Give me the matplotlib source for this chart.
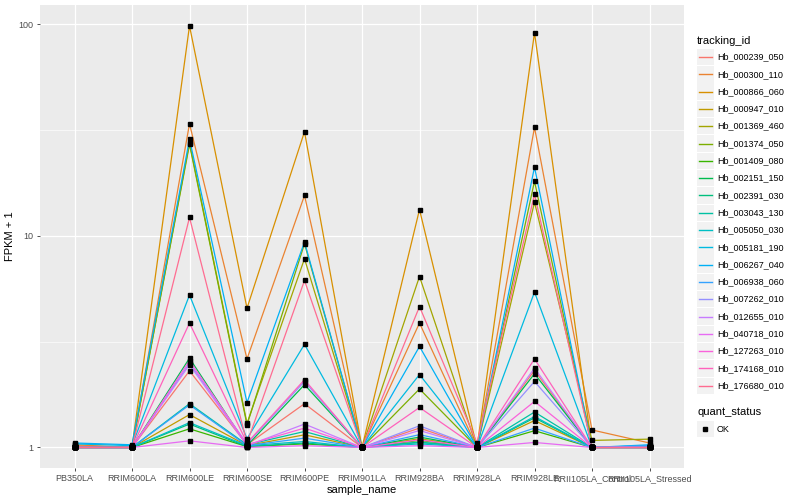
import numpy as np
import matplotlib
matplotlib.use("Agg")
import matplotlib.pyplot as plt
from matplotlib.patches import Rectangle
from matplotlib.ticker import FixedLocator, NullFormatter

plt.rcParams['font.family'] = ['Liberation Sans', 'DejaVu Sans']

samples = ["PB350LA", "RRIM600LA", "RRIM600LE", "RRIM600SE", "RRIM600PE", "RRIM901LA",
           "RRIM928BA", "RRIM928LA", "RRIM928LE", "RRII105LA_Control", "RRII105LA_Stressed"]

tracking_ids = ["Hb_000239_050", "Hb_000300_110", "Hb_000866_060", "Hb_000947_010",
                "Hb_001369_460", "Hb_001374_050", "Hb_001409_080", "Hb_002151_150",
                "Hb_002391_030", "Hb_003043_130", "Hb_005050_030", "Hb_005181_190",
                "Hb_006267_040", "Hb_006938_060", "Hb_007262_010", "Hb_012655_010",
                "Hb_040718_010", "Hb_127263_010", "Hb_174168_010", "Hb_176680_010"]

# ggplot default hue palette for 20 groups
colors = ["#F8766D", "#EA8331", "#D89000", "#C09B00", "#A3A500", "#7CAE00", "#39B600",
          "#00BB4E", "#00BF7D", "#00C1A3", "#00BFC4", "#00BAE0", "#00B0F6", "#35A2FF",
          "#9590FF", "#C77CFF", "#E76BF3", "#FA62DB", "#FF62BC", "#FF6C91"]

# FPKM + 1, one row per tracking_id, one column per sample
fpkm = [
    [1.02, 1.00, 2.30, 1.03, 1.61, 1.00, 1.235, 1.00, 2.31, 1.00, 1.00],
    [1.03, 1.00, 33.8, 2.62, 15.5, 1.00, 3.87, 1.00, 32.5, 1.21, 1.05],
    [1.00, 1.00, 98.0, 4.55, 31.0, 1.00, 13.3, 1.00, 91.0, 1.00, 1.00],
    [1.00, 1.00, 1.43, 1.02, 1.148, 1.00, 1.10, 1.00, 1.34, 1.00, 1.00],
    [1.00, 1.00, 27.5, 1.30, 7.79, 1.00, 6.42, 1.00, 14.4, 1.08, 1.095],
    [1.00, 1.00, 27.0, 1.28, 9.17, 1.00, 1.89, 1.00, 18.1, 1.00, 1.00],
    [1.00, 1.00, 1.225, 1.01, 1.04, 1.00, 1.08, 1.00, 1.20, 1.00, 1.00],
    [1.00, 1.00, 2.64, 1.02, 1.98, 1.00, 1.12, 1.00, 2.23, 1.00, 1.00],
    [1.00, 1.00, 1.29, 1.01, 1.05, 1.00, 1.06, 1.00, 1.38, 1.00, 1.00],
    [1.00, 1.00, 1.61, 1.03, 1.19, 1.00, 1.056, 1.00, 1.47, 1.00, 1.00],
    [1.00, 1.00, 1.31, 1.02, 1.067, 1.00, 1.04, 1.00, 1.40, 1.00, 1.01],
    [1.04, 1.02, 5.25, 1.10, 3.07, 1.00, 2.21, 1.00, 5.42, 1.00, 1.02],
    [1.05, 1.03, 28.6, 1.63, 9.34, 1.00, 3.00, 1.00, 21.1, 1.00, 1.03],
    [1.00, 1.00, 1.59, 1.02, 1.107, 1.00, 1.15, 1.00, 1.235, 1.00, 1.02],
    [1.00, 1.00, 2.50, 1.04, 2.05, 1.00, 1.266, 1.00, 2.05, 1.00, 1.00],
    [1.00, 1.00, 2.46, 1.02, 1.29, 1.00, 1.203, 1.00, 2.37, 1.00, 1.00],
    [1.00, 1.00, 1.075, 1.00, 1.02, 1.00, 1.02, 1.00, 1.056, 1.00, 1.00],
    [1.00, 1.00, 2.57, 1.03, 1.235, 1.00, 1.087, 1.00, 1.65, 1.00, 1.00],
    [1.00, 1.00, 3.87, 1.05, 2.09, 1.00, 1.545, 1.00, 2.62, 1.00, 1.00],
    [1.00, 1.00, 12.2, 1.05, 6.15, 1.00, 4.63, 1.05, 15.7, 1.00, 1.00],
]
quant_status = ["OK"]

fig = plt.figure(figsize=(8, 5), dpi=100)
ax = fig.add_axes([0.05, 0.064, 0.805, 0.926])
ax.set_facecolor("#EBEBEB")
for s in ax.spines.values():
    s.set_visible(False)

x = np.arange(len(samples))
for i, vals in enumerate(fpkm):
    ax.plot(x, vals, color=colors[i], lw=0.9, zorder=3)
for vals in fpkm:
    ax.plot(x, vals, ls="none", marker="s", ms=2.3, color="black", zorder=4)

ax.set_yscale("log")
ax.set_ylim(0.80, 123)
ax.set_xlim(-0.6, len(samples) - 0.4)
ax.yaxis.set_major_locator(FixedLocator([1, 10, 100]))
ax.yaxis.set_minor_locator(FixedLocator([10 ** 0.5, 10 ** 1.5]))
ax.yaxis.set_minor_formatter(NullFormatter())
ax.set_yticklabels(["1", "10", "100"])
ax.set_xticks(x)
ax.set_xticklabels(samples)

ax.grid(True, which="major", color="white", lw=0.9, zorder=0)
ax.grid(True, which="minor", axis="y", color="white", lw=0.45, zorder=0)
ax.set_axisbelow(True)
ax.tick_params(which="major", length=2.5, width=0.6, color="#333333",
               labelsize=6.5, labelcolor="#4D4D4D", pad=2)
ax.tick_params(which="minor", length=0)
ax.set_xlabel("sample_name", fontsize=8, labelpad=1)
ax.set_ylabel("FPKM + 1", fontsize=8, labelpad=3)

# legends drawn in pixel coordinates on an overlay
lax = fig.add_axes([0, 0, 1, 1])
lax.set_xlim(0, 800)
lax.set_ylim(500, 0)
lax.axis("off")

lax.text(697, 41, "tracking_id", fontsize=8, va="center", ha="left")
for i, tid in enumerate(tracking_ids):
    yc = 57 + 17.3 * i
    lax.add_patch(Rectangle((697, yc - 8.2), 16.6, 16.4, facecolor="#F2F2F2", edgecolor="none"))
    lax.plot([698.5, 711.5], [yc, yc], color=colors[i], lw=1.0)
    lax.text(717, yc, tid, fontsize=6.5, va="center", ha="left")

lax.text(697, 412, "quant_status", fontsize=8, va="center", ha="left")
for j, q in enumerate(quant_status):
    yc = 429 + 17.3 * j
    lax.add_patch(Rectangle((697, yc - 8.2), 16.6, 16.4, facecolor="#F2F2F2", edgecolor="none"))
    lax.plot([705.3], [yc], ls="none", marker="s", ms=2.3, color="black")
    lax.text(717, yc, q, fontsize=6.5, va="center", ha="left")

fig.savefig("out.png", dpi=100)
